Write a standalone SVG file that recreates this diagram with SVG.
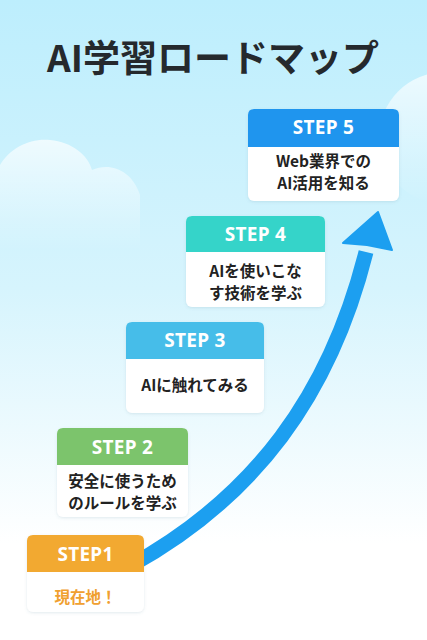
<svg xmlns="http://www.w3.org/2000/svg" width="427" height="640" viewBox="0 0 427 640">
<style>
.hdr{font-family:"Noto Sans","Noto Sans CJK JP",sans-serif;font-weight:700;font-size:19px;fill:#ffffff;text-anchor:middle;letter-spacing:0.3px}
.body{font-family:"Noto Sans CJK JP","Noto Sans",sans-serif;font-weight:700;font-size:15.5px;fill:#222222;text-anchor:middle}
.card{fill:#ffffff}
</style>
<defs>
<linearGradient id="bg" x1="0" y1="0" x2="0" y2="1">
<stop offset="0" stop-color="#bdeefd"/>
<stop offset="0.45" stop-color="#d6f4fd"/>
<stop offset="0.85" stop-color="#ffffff"/>
<stop offset="1" stop-color="#ffffff"/>
</linearGradient>
<linearGradient id="cloud" x1="0" y1="0" x2="0" y2="1">
<stop offset="0" stop-color="#ffffff" stop-opacity="0.7"/>
<stop offset="1" stop-color="#ffffff" stop-opacity="0"/>
</linearGradient>
<filter id="sh" x="-10%" y="-10%" width="120%" height="130%">
<feDropShadow dx="0" dy="1" stdDeviation="1.5" flood-color="#5a8aa0" flood-opacity="0.18"/>
</filter>
</defs>
<rect width="427" height="640" fill="url(#bg)"/>
<g id="clouds">
<path d="M0 250 L0 165 C10 148 30 138 50 140 C72 142 88 155 92 170 C110 162 132 170 140 195 L140 250 Z" fill="url(#cloud)"/>
<circle cx="445" cy="138" r="66" fill="url(#cloud)"/>
</g>
<text id="title" x="213" y="72" font-family="'Noto Sans CJK JP',sans-serif" font-weight="700" font-size="37" fill="#25292d" text-anchor="middle">AI学習ロードマップ</text>
<g id="connectors">
<path d="M130 566 C255 497 330 395 366 252" fill="none" stroke="#1c9ff0" stroke-width="15"/>
<path d="M378 212 L392 250 L367 245 L343 243 Z" fill="#1c9ff0" stroke="#1c9ff0" stroke-width="2" stroke-linejoin="round"/>
</g>
<g id="step1">
<rect x="27" y="535" width="117" height="77" rx="6" class="card" filter="url(#sh)"/>
<path d="M27 572 V541 Q27 535 33 535 H138 Q144 535 144 541 V572 Z" fill="#f2a931"/>
<text x="85.5" y="561" class="hdr">STEP1</text>
<text x="85.5" y="603" class="body" style="fill:#f0a030">現在地！</text>
</g>
<g id="step2">
<rect x="57" y="428" width="131" height="89" rx="6" class="card" filter="url(#sh)"/>
<path d="M57 465 V434 Q57 428 63 428 H182 Q188 428 188 434 V465 Z" fill="#7cc46c"/>
<text x="122.5" y="487" class="body">安全に使うため</text>
<text x="122.5" y="509" class="body">のルールを学ぶ</text>
<text x="122.5" y="454" class="hdr">STEP 2</text>
</g>
<g id="step3">
<rect x="126" y="322" width="138" height="91" rx="6" class="card" filter="url(#sh)"/>
<path d="M126 359 V328 Q126 322 132 322 H258 Q264 322 264 328 V359 Z" fill="#46bde9"/>
<text x="195" y="347" class="hdr">STEP 3</text>
<text x="195" y="391" class="body">AIに触れてみる</text>
</g>
<g id="step4">
<rect x="186" y="216" width="139" height="91" rx="6" class="card" filter="url(#sh)"/>
<path d="M186 252 V222 Q186 216 192 216 H319 Q325 216 325 222 V252 Z" fill="#35d4c9"/>
<text x="255.5" y="241" class="hdr">STEP 4</text>
<text x="255.5" y="277" class="body">AIを使いこな</text>
<text x="255.5" y="299" class="body">す技術を学ぶ</text>
</g>
<g id="step5">
<rect x="248" y="109" width="151" height="92" rx="6" class="card" filter="url(#sh)"/>
<path d="M248 147 V115 Q248 109 254 109 H393 Q399 109 399 115 V147 Z" fill="#1f95ee"/>
<text x="323.5" y="134" class="hdr">STEP 5</text>
<text x="323.5" y="167" class="body">Web業界での</text>
<text x="323.5" y="189" class="body">AI活用を知る</text>
</g>
</svg>
